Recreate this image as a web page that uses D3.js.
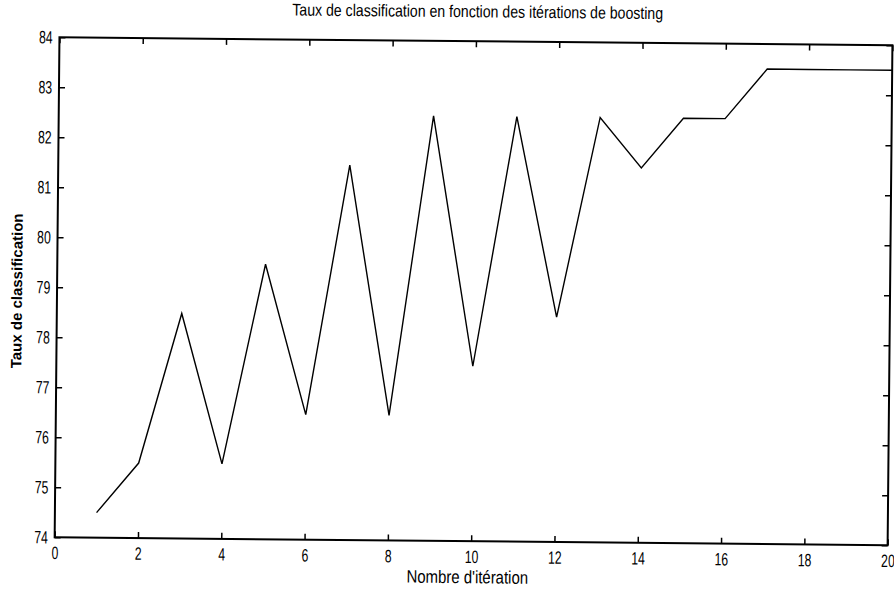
<!DOCTYPE html>
<html>
<head>
<meta charset="utf-8">
<script src="https://cdn.jsdelivr.net/npm/d3@7"></script>
<style>
  body { margin: 0; background: #fff; }
  text { font-family: "Liberation Sans Narrow", "Arial Narrow", "Liberation Sans", sans-serif; fill: #000; }
</style>
</head>
<body>
<script>
var iterations = [1,2,3,4,5,6,7,8,9,10,11,12,13,14,15,16,17,18,19,20];
var taux = [74.5,75.5,78.5,75.5,79.5,76.5,81.5,76.5,82.5,77.5,82.5,78.5,82.5,81.5,82.5,82.5,83.5,83.5,83.5,83.5];
var xTicks = [0,2,4,6,8,10,12,14,16,18,20];
var yTicks = [74,75,76,77,78,79,80,81,82,83,84];

var width = 894, height = 591;
var margin = {left: 57, right: 4, top: 41, bottom: 50};

var svg = d3.select("body").append("svg")
    .attr("width", width)
    .attr("height", height);

var x = d3.scaleLinear().domain([0, 20]).range([margin.left, width - margin.right]);
var y = d3.scaleLinear().domain([74, 84]).range([height - margin.bottom, margin.top]);

// scanned page is slightly tilted
var g = svg.append("g")
    .attr("transform", "rotate(0.55," + (width / 2) + "," + (height / 2) + ")");

g.append("rect")
    .attr("x", x(0)).attr("y", y(84))
    .attr("width", x(20) - x(0)).attr("height", y(74) - y(84))
    .attr("fill", "none").attr("stroke", "#000").attr("stroke-width", 2);

var tick = 6;
g.append("g").attr("transform", "translate(0," + y(74) + ")")
    .call(d3.axisBottom(x).tickValues(xTicks).tickSizeInner(-tick).tickSizeOuter(0).tickPadding(9))
    .call(function(s){ s.select(".domain").remove(); });
g.append("g").attr("transform", "translate(0," + y(84) + ")")
    .call(d3.axisTop(x).tickValues(xTicks).tickSizeInner(-tick).tickSizeOuter(0).tickFormat(""))
    .call(function(s){ s.select(".domain").remove(); });
g.append("g").attr("transform", "translate(" + x(0) + ",0)")
    .call(d3.axisLeft(y).tickValues(yTicks).tickSizeInner(-tick).tickSizeOuter(0).tickPadding(10))
    .call(function(s){ s.select(".domain").remove(); });
g.append("g").attr("transform", "translate(" + x(20) + ",0)")
    .call(d3.axisRight(y).tickValues(yTicks).tickSizeInner(-tick).tickSizeOuter(0).tickFormat(""))
    .call(function(s){ s.select(".domain").remove(); });

g.selectAll(".tick line").attr("stroke", "#000").attr("stroke-width", 1.5);
g.selectAll(".tick text").attr("font-size", 18)
    .style("font-family", "'Liberation Sans', sans-serif")
    .attr("transform", "scale(0.68,1)");

var line = d3.line()
    .x(function(d, i){ return x(iterations[i]); })
    .y(function(d){ return y(d); });

g.append("path")
    .datum(taux)
    .attr("d", line)
    .attr("fill", "none")
    .attr("stroke", "#000")
    .attr("stroke-width", 1.4);

g.append("text")
    .attr("transform", "translate(475,17) scale(0.83,1)")
    .attr("text-anchor", "middle")
    .attr("font-size", 17)
    .text("Taux de classification en fonction des itérations de boosting");

g.append("text")
    .attr("transform", "translate(470,583) scale(0.83,1)")
    .attr("text-anchor", "middle")
    .attr("font-size", 18)
    .text("Nombre d'itération");

g.append("text")
    .attr("transform", "translate(22,295) rotate(-90)")
    .attr("text-anchor", "middle")
    .attr("font-size", 15)
    .attr("font-weight", "bold")
    .style("font-family", "'Liberation Sans', sans-serif")
    .text("Taux de classification");
</script>
</body>
</html>
